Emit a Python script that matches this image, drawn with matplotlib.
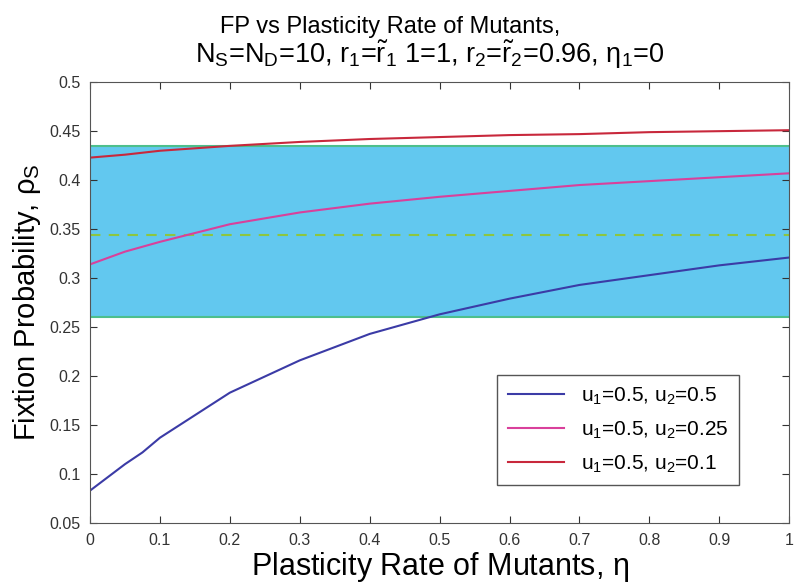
import matplotlib
matplotlib.use("Agg")
import matplotlib.pyplot as plt

plt.rcParams['font.family'] = ['Liberation Sans', 'DejaVu Sans']
plt.rcParams['mathtext.fontset'] = 'custom'
plt.rcParams['mathtext.rm'] = 'Liberation Sans'
plt.rcParams['mathtext.it'] = 'Liberation Sans'
plt.rcParams['mathtext.bf'] = 'Liberation Sans:bold'

eta = [0, 0.05, 0.075, 0.1, 0.2, 0.3, 0.4, 0.5, 0.6, 0.7, 0.8, 0.9, 1.0]
rho_u05 = [0.083, 0.110, 0.122, 0.137, 0.183, 0.216, 0.243, 0.263, 0.279, 0.293, 0.303, 0.313, 0.321]
rho_u025 = [0.314, 0.327, 0.332, 0.337, 0.355, 0.367, 0.376, 0.383, 0.389, 0.395, 0.399, 0.403, 0.407]
rho_u01 = [0.423, 0.426, 0.428, 0.430, 0.435, 0.439, 0.442, 0.444, 0.446, 0.447, 0.449, 0.450, 0.451]
band_low, band_high = 0.26, 0.435
band_mid = 0.344

labels = [r'u$_1$=0.5, u$_2$=0.5', r'u$_1$=0.5, u$_2$=0.25', r'u$_1$=0.5, u$_2$=0.1']

fig = plt.figure(figsize=(8, 5.83), dpi=100)
ax = fig.add_axes([0.1125, 0.103, 0.874, 0.756])

ax.axhspan(band_low, band_high, facecolor='#62C8EF', edgecolor='none', zorder=0)
ax.axhline(band_low, color='#4DBF8C', lw=1.5, zorder=1)
ax.axhline(band_high, color='#4DBF8C', lw=1.5, zorder=1)
ax.axhline(band_mid, color='#8DC63F', lw=1.5, ls=(0, (5, 4)), zorder=1)

ax.plot(eta, rho_u05, color='#3B3BA6', lw=1.5, label=labels[0])
ax.plot(eta, rho_u025, color='#D9409B', lw=1.5, label=labels[1])
ax.plot(eta, rho_u01, color='#C8283C', lw=1.5, label=labels[2])

ax.set_xlim(0, 1)
ax.set_ylim(0.05, 0.5)
ax.set_xticks([0, 0.1, 0.2, 0.3, 0.4, 0.5, 0.6, 0.7, 0.8, 0.9, 1])
ax.set_xticklabels(['0', '0.1', '0.2', '0.3', '0.4', '0.5', '0.6', '0.7', '0.8', '0.9', '1'])
ax.set_yticks([0.05, 0.1, 0.15, 0.2, 0.25, 0.3, 0.35, 0.4, 0.45, 0.5])
ax.set_yticklabels(['0.05', '0.1', '0.15', '0.2', '0.25', '0.3', '0.35', '0.4', '0.45', '0.5'])
ax.tick_params(direction='in', labelsize=11.5, colors='#333333', length=5,
               top=True, right=True, pad=7)
for s in ax.spines.values():
    s.set_color('#555555')

ax.set_xlabel(r'Plasticity Rate of Mutants, $\eta$', fontsize=22, labelpad=2)
ax.set_ylabel(r'Fixtion Probability, $\rho_S$', fontsize=21, labelpad=4)

fig.text(0.4875, 1 - 33 / 583, 'FP vs Plasticity Rate of Mutants,',
         fontsize=17, ha='center', va='baseline')
fig.text(0.5375, 1 - 63 / 583,
         r'N$_S$=N$_D$=10, r$_1$=$\tilde{r}_1$ 1=1, r$_2$=$\tilde{r}_2$=0.96, $\eta_1$=0',
         fontsize=19.5, ha='center', va='baseline')

leg = ax.legend(loc='lower right', bbox_to_anchor=(0.928, 0.086), borderaxespad=0,
                fontsize=15, fancybox=False, framealpha=1, edgecolor='#555555',
                handlelength=2.7, labelspacing=0.6, borderpad=0.5)

fig.savefig('out.png', dpi=100)
